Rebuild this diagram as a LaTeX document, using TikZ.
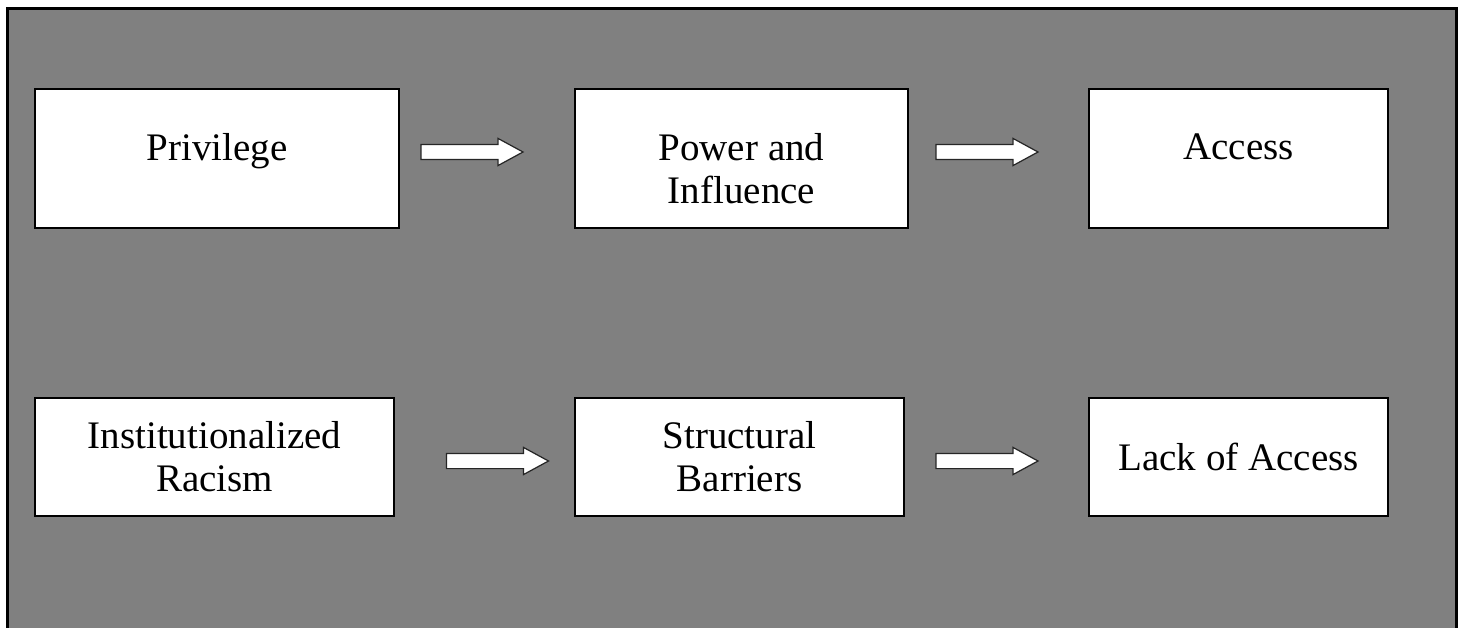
\documentclass[tikz,border=0pt]{standalone}
\usepackage{fontspec}
\setmainfont{Liberation Serif}
\usetikzlibrary{shapes.arrows, positioning}
\definecolor{framegray}{RGB}{128, 128, 128}

\begin{document}
\begin{tikzpicture}[x=0.02cm, y=-0.02cm,
    box/.style={draw, line width=0.8pt, fill=white, inner sep=0pt, align=center,
        font=\fontsize{22.2}{24.5}\selectfont},
    boxtext/.style={anchor=north, inner sep=0pt, align=center,
        font=\fontsize{22.2}{24.5}\selectfont},
    blockarrow/.style={single arrow, draw=black!85, line width=0.7pt, fill=white,
        inner sep=0pt, text height=0.14cm, text depth=0.14cm, minimum height=2.04cm,
        single arrow head extend=0.12cm, single arrow tip angle=57}]
    % Frame
    \clip (0,0) rectangle (1462,628);
    \draw[line width=1.2pt, fill=framegray] (7.5,8.5) rectangle (1456.5,700);
    % Upper row
    \node[box, minimum width=7.28cm, minimum height=2.78cm] (privilege) at (217,158.5) {};
    \node[box, minimum width=6.66cm, minimum height=2.78cm] (power) at (741.5,158.5) {};
    \node[box, minimum width=5.98cm, minimum height=2.78cm] (access) at (1238.5,158.5) {};
    \node[boxtext] (privilegetext) at ([yshift=-0.9cm]privilege.north) {Privilege};
    \node[boxtext] (powertext) at ([yshift=-0.9cm]power.north) {Power and\\Influence};
    \node[boxtext] (accesstext) at ([yshift=-0.9cm]access.north) {Access};
    % Lower row
    \node[box, minimum width=7.18cm, minimum height=2.36cm] (racism) at (214.5,457) {Institutionalized\\Racism};
    \node[box, minimum width=6.58cm, minimum height=2.36cm] (barriers) at (739.5,457) {Structural\\Barriers};
    \node[box, minimum width=5.98cm, minimum height=2.36cm] (lackaccess) at (1238.5,457) {Lack of Access};
    % Arrows
    \node[blockarrow] (arrowpower) at (465,152) {};
    \node[blockarrow] (arrowaccess) at (980,152) {};
    \node[blockarrow] (arrowbarriers) at (490.5,461) {};
    \node[blockarrow] (arrowlack) at (980,461) {};
\end{tikzpicture}
\end{document}
